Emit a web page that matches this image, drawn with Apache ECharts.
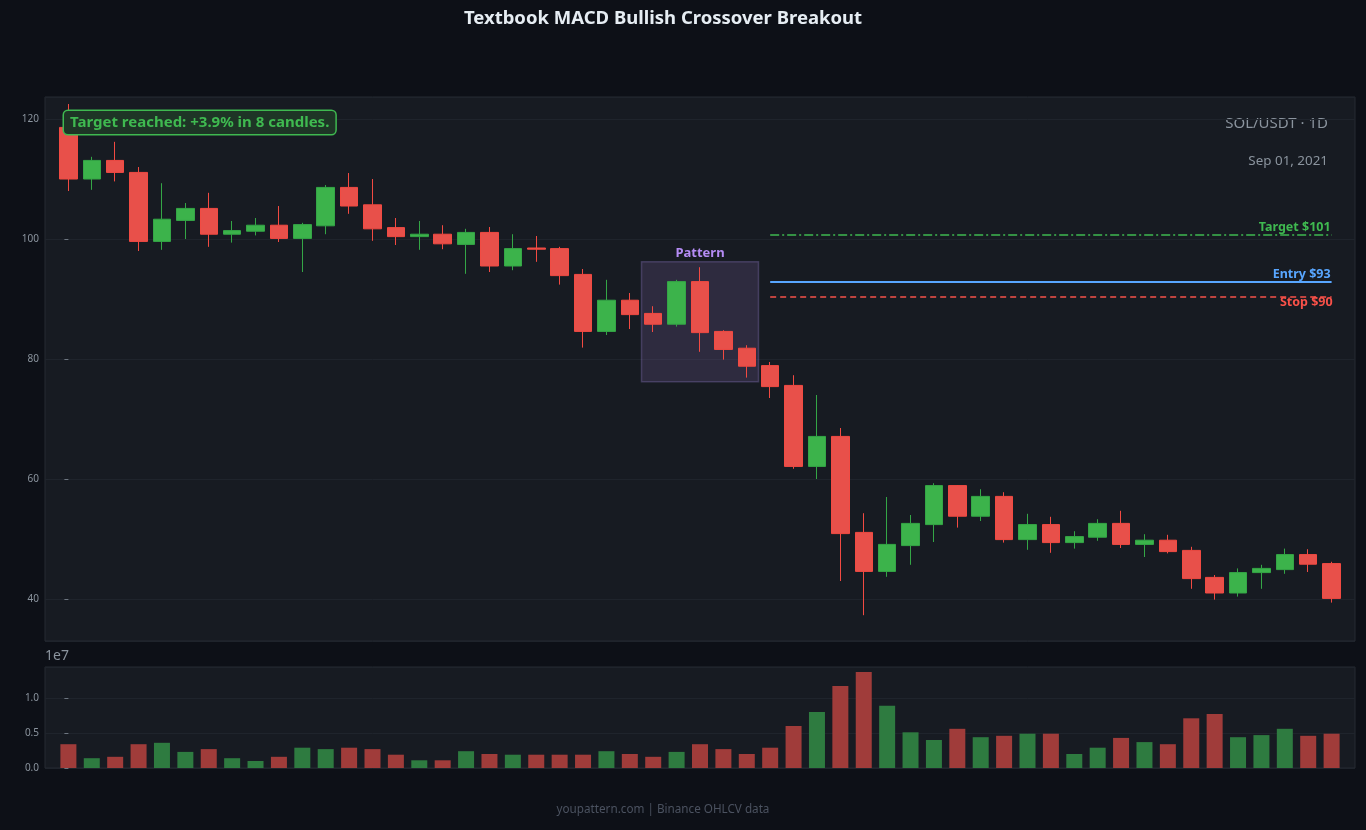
<!DOCTYPE html>
<html>
<head>
<meta charset="utf-8">
<title>Textbook MACD Bullish Crossover Breakout</title>
<script src="https://cdn.jsdelivr.net/npm/echarts@6/dist/echarts.min.js"></script>
<style>
  html, body { margin: 0; padding: 0; background: #0d1017; }
  #chart { width: 1366px; height: 830px; }
</style>
</head>
<body>
<div id="chart"></div>
<script>
// SOL/USDT daily candles
const OPEN  = [118.6, 110.0, 113.1, 111.1, 99.6, 103.1, 105.1, 100.8, 101.3, 102.3,
               100.1, 102.2, 108.6, 105.7, 101.9, 100.4, 100.8, 99.1, 101.1, 95.5,
               98.5, 98.4, 94.1, 84.6, 89.8, 87.6, 85.8, 92.9, 84.6, 81.8,
               78.9, 75.6, 62.1, 67.1, 51.1, 44.6, 48.9, 52.4, 58.9, 53.8,
               57.1, 49.9, 52.4, 49.4, 50.3, 52.6, 49.1, 49.8, 48.1, 43.6,
               41.0, 44.4, 44.9, 47.4, 45.9];
const CLOSE = [110.0, 113.1, 111.1, 99.6, 103.3, 105.1, 100.8, 101.4, 102.3, 100.1,
               102.4, 108.6, 105.5, 101.7, 100.4, 100.8, 99.2, 101.1, 95.5, 98.4,
               98.3, 93.9, 84.6, 89.8, 87.4, 85.8, 92.9, 84.4, 81.6, 78.8,
               75.4, 62.1, 67.1, 50.9, 44.6, 49.1, 52.6, 58.9, 53.8, 57.1,
               49.9, 52.4, 49.4, 50.4, 52.6, 49.1, 49.8, 47.9, 43.4, 41.0,
               44.4, 45.1, 47.4, 45.8, 40.1];
const LOW   = [108.0, 108.2, 109.6, 98.0, 98.2, 100.0, 98.7, 99.4, 100.6, 99.5,
               94.5, 100.8, 104.2, 99.7, 99.0, 98.2, 98.3, 94.2, 94.5, 94.8,
               96.2, 92.4, 81.9, 84.0, 85.0, 84.5, 85.4, 81.2, 79.9, 76.9,
               73.5, 61.7, 60.0, 43.0, 37.3, 43.7, 45.7, 49.5, 51.9, 53.0,
               49.4, 48.2, 47.7, 48.4, 49.7, 48.5, 47.0, 47.6, 41.7, 39.9,
               40.4, 41.7, 44.2, 44.5, 39.4];
const HIGH  = [122.5, 113.7, 116.2, 112.0, 109.3, 106.0, 107.7, 103.0, 103.5, 105.5,
               102.7, 109.0, 111.0, 110.0, 103.5, 103.0, 102.3, 101.7, 102.0, 100.8,
               100.5, 98.7, 95.0, 93.2, 91.0, 88.8, 93.2, 95.3, 84.8, 82.3,
               79.5, 77.3, 74.0, 68.5, 54.3, 57.0, 54.0, 59.3, 59.0, 58.3,
               57.8, 54.2, 53.7, 51.3, 53.3, 54.7, 50.8, 50.7, 48.7, 44.0,
               45.1, 45.7, 48.4, 48.3, 46.2];
// volume in millions
const VOLUME_M = [3.4, 1.4, 1.6, 3.4, 3.6, 2.3, 2.7, 1.4, 1.0, 1.6,
                  2.9, 2.7, 2.9, 2.7, 1.9, 1.1, 1.1, 2.4, 2.0, 1.9,
                  1.9, 1.9, 1.9, 2.4, 2.0, 1.6, 2.3, 3.4, 2.7, 2.0,
                  2.9, 6.0, 8.0, 11.7, 13.7, 8.9, 5.1, 4.0, 5.6, 4.4,
                  4.6, 4.9, 4.9, 2.0, 2.9, 4.3, 3.7, 3.4, 7.1, 7.7,
                  4.4, 4.7, 5.6, 4.6, 4.9];

// trade levels
const TARGET = 100.67, ENTRY = 92.83, STOP = 90.33;
const LEVEL_START = 30, LEVEL_END = 54;
const PATTERN_X = [24.5, 29.5];
const PATTERN_Y = [76.2, 96.2];

const UP = '#3cb34b', DOWN = '#e8504a';
const VOL_UP = '#2e7b40', VOL_DOWN = '#a03c3a';

const candles = OPEN.map((o, i) => [i, o, CLOSE[i], LOW[i], HIGH[i]]);
const volumes = VOLUME_M.map((v, i) => ({
  value: [i, v * 1e6],
  itemStyle: { color: CLOSE[i] >= OPEN[i] ? VOL_UP : VOL_DOWN }
}));

const FONT = 'Noto Sans';
const axisLabel = { color: '#8b949e', fontSize: 10, fontFamily: FONT };

const chart = echarts.init(document.getElementById('chart'), null, { renderer: 'canvas' });

chart.setOption({
  backgroundColor: '#0d1017',
  animation: false,
  grid: [
    { left: 45, right: 11, top: 97, height: 544, show: true,
      backgroundColor: '#171b22', borderColor: '#262b33', borderWidth: 1 },
    { left: 45, right: 11, top: 667, height: 101, show: true,
      backgroundColor: '#171b22', borderColor: '#262b33', borderWidth: 1 }
  ],
  xAxis: [
    { type: 'value', gridIndex: 0, min: -1, max: 55,
      axisLine: { show: false }, axisTick: { show: false }, axisLabel: { show: false }, splitLine: { show: false } },
    { type: 'value', gridIndex: 1, min: -1, max: 55,
      axisLine: { show: false }, axisTick: { show: false }, axisLabel: { show: false }, splitLine: { show: false } }
  ],
  yAxis: [
    { type: 'value', gridIndex: 0, min: 33, max: 123.67, scale: true,
      axisLine: { show: false },
      axisTick: { show: true, length: 4, lineStyle: { color: '#6e7681' } },
      axisLabel: { ...axisLabel, showMinLabel: false, showMaxLabel: false, margin: 6 },
      splitLine: { lineStyle: { color: '#1f242c' } } },
    { type: 'value', gridIndex: 1, min: 0, max: 1.443e7, interval: 5e6,
      axisLine: { show: false },
      axisTick: { show: true, length: 4, lineStyle: { color: '#6e7681' } },
      axisLabel: { ...axisLabel, showMaxLabel: false, margin: 6,
        formatter: v => (v / 1e7).toFixed(1) },
      splitLine: { lineStyle: { color: '#1f242c' } } }
  ],
  series: [
    {
      type: 'candlestick',
      xAxisIndex: 0, yAxisIndex: 0,
      data: candles,
      encode: { x: 0, y: [1, 2, 3, 4] },
      barWidth: 18,
      itemStyle: {
        color: UP, color0: DOWN,
        borderColor: '#34a646', borderColor0: '#f24a42', borderWidth: 1
      },
      markArea: {
        silent: true,
        itemStyle: { color: 'rgba(138,111,180,0.2)', borderColor: 'rgba(150,130,210,0.3)', borderWidth: 1.5 },
        label: { show: true, position: 'top', distance: 1, formatter: 'Pattern',
          color: '#b58cf5', fontWeight: 'bold', fontSize: 13, fontFamily: FONT },
        data: [[{ xAxis: PATTERN_X[0], yAxis: PATTERN_Y[0] }, { xAxis: PATTERN_X[1], yAxis: PATTERN_Y[1] }]]
      },
      markLine: {
        silent: true,
        symbol: 'none',
        label: { fontWeight: 'bold', fontSize: 12.5, fontFamily: FONT, distance: 1 },
        data: [
          [{ coord: [LEVEL_START, TARGET],
             lineStyle: { color: '#3fb950', width: 1.5, type: [9, 3, 2, 3] },
             label: { formatter: 'Target $101', position: 'insideEndTop', color: '#3fb950' } },
           { coord: [LEVEL_END, TARGET] }],
          [{ coord: [LEVEL_START, ENTRY],
             lineStyle: { color: '#58a6ff', width: 2, type: 'solid' },
             label: { formatter: 'Entry $93', position: 'insideEndTop', color: '#58a6ff' } },
           { coord: [LEVEL_END, ENTRY] }],
          [{ coord: [LEVEL_START, STOP],
             lineStyle: { color: '#f85149', width: 1.5, type: [6, 4] },
             label: { formatter: 'Stop $90', position: 'insideEndBottom', color: '#f85149', distance: -1 } },
           { coord: [LEVEL_END, STOP] }]
        ]
      }
    },
    {
      type: 'bar',
      xAxisIndex: 1, yAxisIndex: 1,
      data: volumes,
      barWidth: 16
    }
  ],
  graphic: [
    { type: 'text', x: 663, y: 19, style: { text: 'Textbook MACD Bullish Crossover Breakout',
      fill: '#e6edf3', font: 'bold 18.5px "Noto Sans"', align: 'center', verticalAlign: 'middle' } },
    { type: 'text', x: 1328, y: 124, style: { text: 'SOL/USDT · 1D',
      fill: '#8b949e', font: '15px "Noto Sans"', align: 'right', verticalAlign: 'middle' } },
    { type: 'text', x: 1328, y: 161, style: { text: 'Sep 01, 2021',
      fill: '#8b949e', font: '13.4px "Noto Sans"', align: 'right', verticalAlign: 'middle' } },
    { type: 'text', x: 64, y: 111, z: 100, style: { text: 'Target reached: +3.9% in 8 candles.',
      fill: '#3fb950', font: 'bold 15px "Noto Sans"',
      backgroundColor: '#1e3526', borderColor: '#3fb950', borderWidth: 1.5, borderRadius: 4,
      padding: [4, 6, 4, 6] } },
    { type: 'text', x: 45, y: 656, style: { text: '1e7',
      fill: '#8b949e', font: '14px "Noto Sans"', align: 'left', verticalAlign: 'middle' } },
    { type: 'text', x: 663, y: 810, style: { text: 'youpattern.com | Binance OHLCV data',
      fill: '#4b5260', font: '11.7px "Noto Sans"', align: 'center', verticalAlign: 'middle' } }
  ]
});
</script>
</body>
</html>
